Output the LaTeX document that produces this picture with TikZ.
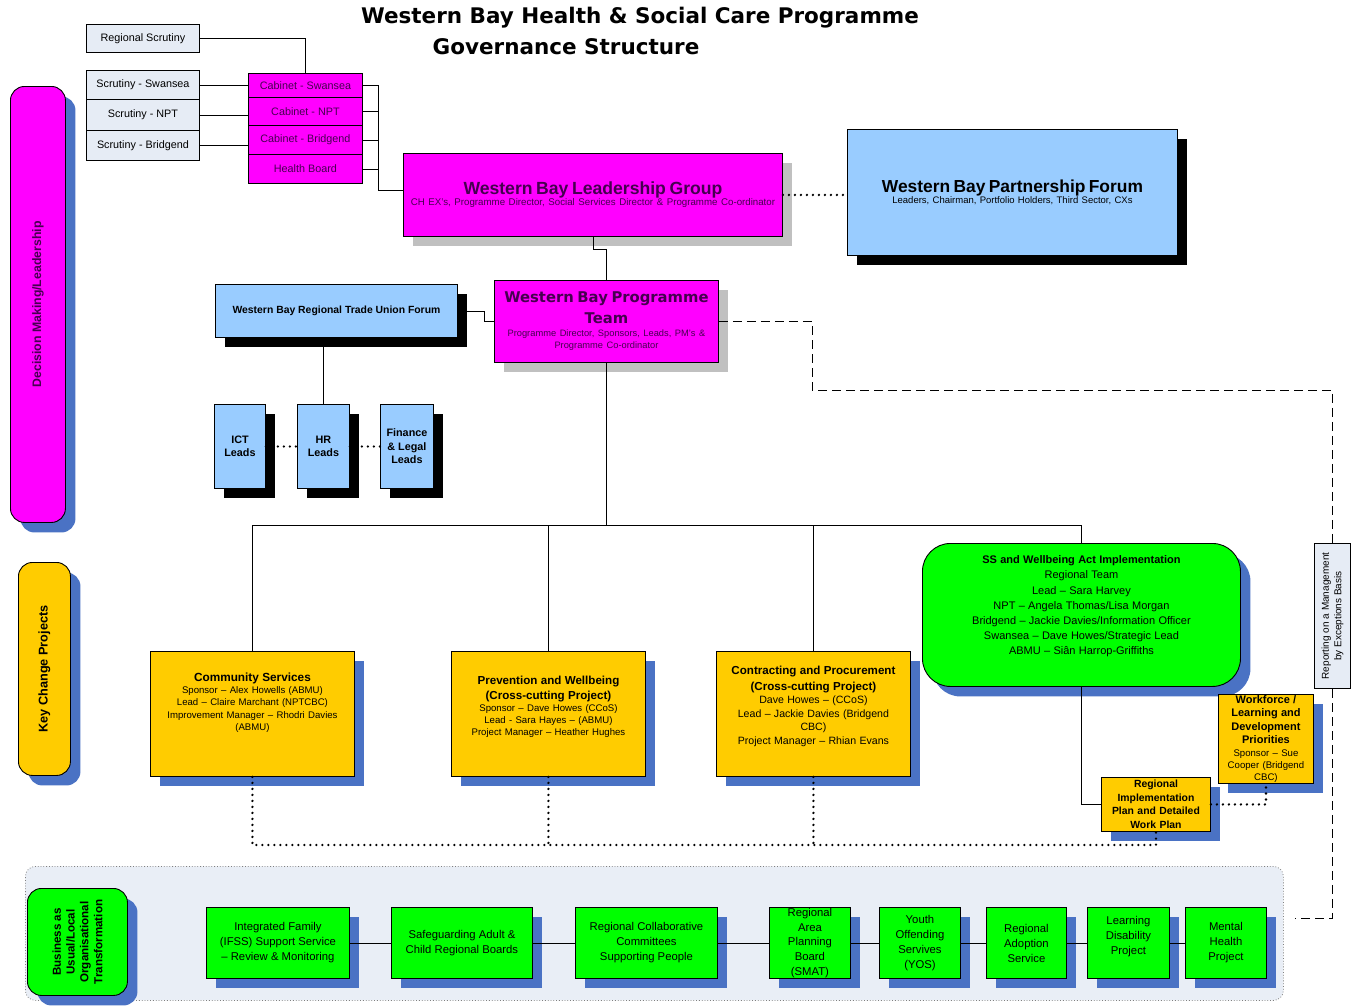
\documentclass[tikz,border=0pt]{standalone}
\usepackage{fontspec}
\setmainfont{Liberation Sans}
\newfontfamily\titlefont{DejaVu Sans}
\usetikzlibrary{shadows}
\definecolor{mag}{RGB}{255,0,255}
\definecolor{magtext}{RGB}{70,0,80}
\definecolor{lblue}{RGB}{153,204,255}
\definecolor{scr}{RGB}{230,236,245}
\definecolor{yel}{RGB}{255,204,0}
\definecolor{grn}{RGB}{0,255,0}
\definecolor{shblue}{RGB}{74,114,196}
\definecolor{shgray}{RGB}{192,192,192}
\definecolor{contfill}{RGB}{233,238,246}
\newcommand\myfs[2]{\fontsize{#1}{#2}\selectfont}
\begin{document}
\begin{tikzpicture}[x=1pt,y=-1pt,
 base/.style={draw=black, line width=0.9pt, inner sep=1pt, align=center, anchor=north west},
 scrbox/.style={base, fill=scr, font=\myfs{10.8}{12}},
 magbox/.style={base, fill=mag, text=magtext, font=\myfs{10.8}{12}},
 bshadow/.style={drop shadow={shadow xshift=10pt, shadow yshift=-10pt, fill=black, opacity=1}},
 blushadow/.style={drop shadow={shadow xshift=10pt, shadow yshift=-10pt, fill=shblue, opacity=1}},
 gshadow/.style={drop shadow={shadow xshift=10pt, shadow yshift=-10pt, fill=shgray, opacity=1}},
 lbbox/.style={base, fill=lblue, bshadow},
 yelbox/.style={base, fill=yel, blushadow},
 grnbox/.style={base, fill=grn, blushadow, font=\myfs{11.3}{15}, minimum height=71},
 conn/.style={draw=black, line width=0.8pt},
 dots/.style={draw=black, line width=2.6pt, line cap=round, dash pattern=on 0pt off 6pt},
 dashln/.style={draw=black, line width=1pt, dash pattern=on 9pt off 5pt}
]
\useasboundingbox (0,0) rectangle (1357,1005);
\fill[white] (0,0) rectangle (1357,1005);

% title
\node[font=\titlefont\bfseries\myfs{21.5}{26}] (t1) at (640,18) {Western Bay Health \& Social Care Programme};
\node[font=\titlefont\bfseries\myfs{21.5}{26}] (t2) at (566,47) {Governance Structure};

% left side labels
\node[base, fill=mag, blushadow, rounded corners=14pt, minimum width=55, minimum height=436,
  label={[rotate=90, font=\bfseries\myfs{12.3}{13}, text=magtext]center:Decision Making/Leadership}] (dm) at (10,86) {};
\node[base, fill=yel, blushadow, rounded corners=14pt, minimum width=52, minimum height=213,
  label={[rotate=90, font=\bfseries\myfs{12.7}{14}]center:Key Change Projects}] (kc) at (18,562) {};

% scrutiny
\node[scrbox, minimum width=113, minimum height=28] (rs) at (86,24) {Regional Scrutiny};
\node[scrbox, minimum width=113, minimum height=29] (ssw) at (86,70) {Scrutiny - Swansea};
\node[scrbox, minimum width=113, minimum height=31] (snpt) at (86,99) {Scrutiny - NPT};
\node[scrbox, minimum width=113, minimum height=30] (sbri) at (86,130) {Scrutiny - Bridgend};

% cabinets
\node[magbox, minimum width=114, minimum height=24] (cswa) at (248,73) {Cabinet - Swansea};
\node[magbox, minimum width=114, minimum height=28] (cnpt) at (248,97) {Cabinet - NPT};
\node[magbox, minimum width=114, minimum height=29] (cbri) at (248,125) {Cabinet - Bridgend};
\node[magbox, minimum width=114, minimum height=29] (hb) at (248,154) {Health Board};

% leadership & partnership
\node[magbox, gshadow, minimum width=379, minimum height=83, text width=373pt] (lg) at (403,153)
 {{\bfseries\myfs{17.6}{18}Western Bay Leadership Group\par}{\myfs{9.7}{11}CH EX's, Programme Director, Social Services Director \& Programme Co-ordinator\par}};
\node[lbbox, minimum width=330, minimum height=126, text width=324pt] (pf) at (847,129)
 {{\bfseries\myfs{17.4}{18}Western Bay Partnership Forum\par}{\myfs{9.5}{11}Leaders, Chairman, Portfolio Holders, Third Sector, CXs\par}};

% programme team
\node[magbox, gshadow, minimum width=224, minimum height=82, text width=218pt] (pt) at (494,280)
 {{\titlefont\bfseries\myfs{14.8}{21}Western Bay Programme\\Team\par}{\myfs{9.3}{12.5}Programme Director, Sponsors, Leads, PM's \&\\Programme Co-ordinator\par}};

% trade union & leads
\node[lbbox, minimum width=242, minimum height=53, font=\bfseries\myfs{10.4}{12}] (tu) at (215,284) {Western Bay Regional Trade Union Forum};
\node[lbbox, minimum width=51, minimum height=84, font=\bfseries\myfs{10.8}{13.5}] (ict) at (214,404) {ICT\\Leads};
\node[lbbox, minimum width=52, minimum height=84, font=\bfseries\myfs{10.8}{13.5}] (hr) at (297,404) {HR\\Leads};
\node[lbbox, minimum width=53, minimum height=84, font=\bfseries\myfs{10.8}{13.5}] (fin) at (380,404) {Finance\\\& Legal\\Leads};

% key change projects
\node[yelbox, minimum width=204, minimum height=125, text width=198pt] (com) at (150,651)
 {{\bfseries\myfs{11.8}{13}Community Services\par}{\myfs{9.6}{12.3}Sponsor – Alex Howells (ABMU)\\Lead – Claire Marchant (NPTCBC)\\Improvement Manager – Rhodri Davies\\(ABMU)\par}\rule{0pt}{22pt}};
\node[yelbox, minimum width=194, minimum height=125, text width=188pt] (prev) at (451,651)
 {{\bfseries\myfs{11.6}{15}Prevention and Wellbeing\\(Cross-cutting Project)\par}{\myfs{9.6}{12}Sponsor – Dave Howes (CCoS)\\Lead - Sara Hayes – (ABMU)\\Project Manager – Heather Hughes\par}\rule{0pt}{14pt}};
\node[yelbox, minimum width=194, minimum height=125, text width=188pt] (con) at (716,651)
 {{\bfseries\myfs{11.6}{15.5}Contracting and Procurement\\(Cross-cutting Project)\par}{\myfs{10.6}{13.5}Dave Howes – (CCoS)\\Lead – Jackie Davies (Bridgend\\CBC)\\Project Manager – Rhian Evans\par}\rule{0pt}{14pt}};
\node[base, fill=grn, blushadow, rounded corners=28pt, minimum width=318, minimum height=143, text width=312pt] (act) at (922,543)
 {{\bfseries\myfs{11}{15.2}SS and Wellbeing Act Implementation\par}{\myfs{11}{15.2}Regional Team\\Lead – Sara Harvey\\NPT – Angela Thomas/Lisa Morgan\\Bridgend – Jackie Davies/Information Officer\\Swansea – Dave Howes/Strategic Lead\\ABMU – Siân Harrop-Griffiths\par}\rule{0pt}{16pt}};
\node[yelbox, inner sep=0pt, minimum width=95, minimum height=89, text width=93pt] (wf) at (1218,694)
 {{\bfseries\myfs{11}{13.5}Workforce /\\Learning and\\Development\\Priorities\par}{\myfs{9.6}{12.2}Sponsor – Sue\\Cooper (Bridgend\\CBC)\par}};
\node[yelbox, minimum width=109, minimum height=54, text width=107pt, font=\bfseries\myfs{10.4}{13.5}] (ri) at (1101,777)
 {Regional\\Implementation\\Plan and Detailed\\Work Plan};

% reporting box
\node[base, fill=scr, minimum width=36, minimum height=145,
  label={[rotate=90, align=center, font=\myfs{10}{12.5}]center:{Reporting on a Management\\by Exceptions Basis}}] (rep) at (1314,543) {};

% bottom container
\node[draw=gray, dotted, line width=0.8pt, fill=contfill, rounded corners=10pt, minimum width=1258, minimum height=134, anchor=north west] (cont) at (25,866) {};
\node[base, fill=grn, blushadow, rounded corners=14pt, minimum width=100, minimum height=107,
  label={[rotate=90, align=center, font=\bfseries\myfs{11.6}{13.8}]center:{Business as\\Usual/Local\\Organisational\\Transformation}}] (bau) at (27,888) {};
\node[grnbox, minimum width=143] (b1) at (206,907) {Integrated Family\\(IFSS) Support Service\\– Review \& Monitoring};
\node[grnbox, minimum width=141] (b2) at (391,907) {Safeguarding Adult \&\\Child Regional Boards};
\node[grnbox, minimum width=142] (b3) at (575,907) {Regional Collaborative\\Committees\\Supporting People};
\node[grnbox, inner sep=0pt, minimum width=81, font=\myfs{11.3}{14.8}] (b4) at (769,907) {Regional\\Area\\Planning\\Board\\(SMAT)};
\node[grnbox, minimum width=81] (b5) at (879,907) {Youth\\Offending\\Servives\\(YOS)};
\node[grnbox, minimum width=80] (b6) at (986,907) {Regional\\Adoption\\Service};
\node[grnbox, minimum width=82] (b7) at (1087,907) {Learning\\Disability\\Project\rule[-16pt]{0pt}{0pt}};
\node[grnbox, minimum width=81] (b8) at (1185,907) {Mental\\Health\\Project};

% connectors top
\draw[conn] (rs.east) -| (cswa.north);
\draw[conn] (ssw.east) -- (ssw.east -| cswa.west);
\draw[conn] (snpt.east) -- (snpt.east -| cnpt.west);
\draw[conn] (sbri.east) -- (sbri.east -| cbri.west);
\coordinate (cbus) at (378,190);
\draw[conn] (cswa.east) -| (cbus);
\draw[conn] (cnpt.east) -| (cbus);
\draw[conn] (cbri.east) -| (cbus);
\draw[conn] (hb.east) -| (cbus);
\draw[conn] (cbus) -- (cbus -| lg.west);
\draw[dots] (lg.east) -- (lg.east -| pf.west);
\draw[conn] (lg.south) -- ++(0,12) -| (pt.north);
\draw[conn] (tu.east) -- ++(26,0) |- (pt.west);
\draw[conn] (hr.north) -- (hr.north |- tu.south);
\draw[dots] (ict.east) -- (hr.west);
\draw[dots] (hr.east) -- (fin.west);

% connectors to projects
\coordinate (kbus) at (607,525);
\draw[conn] (pt.south) -- (pt.south |- kbus);
\draw[conn] (com.north) |- (act.north |- kbus) -- (act.north);
\draw[conn] (prev.north) -- (prev.north |- kbus);
\draw[conn] (con.north) -- (con.north |- kbus);
\draw[conn] (act.south) |- (ri.west);
\draw[dots] (ri.east) -| (wf.south);
\coordinate (dbus) at (0,845);
\draw[dots] (com.south) |- (ri.south |- dbus) -- (ri.south);
\draw[dots] (prev.south) -- (prev.south |- dbus);
\draw[dots] (con.south) -- (con.south |- dbus);

% reporting dashed line
\coordinate (dl) at (812,390);
\draw[dashln] (pt.east) -| (dl) -| (rep.north);
\coordinate (dend) at (1295,918);
\draw[dashln] (rep.south) |- (dend);

% bottom row connectors
\draw[conn] (b1.east) -- (b2.west);
\draw[conn] (b2.east) -- (b3.west);
\draw[conn] (b3.east) -- (b4.west);
\draw[conn] (b4.east) -- (b5.west);
\draw[conn] (b5.east) -- (b6.west);
\draw[conn] (b6.east) -- (b7.west);
\draw[conn] (b7.east) -- (b8.west);
\end{tikzpicture}
\end{document}
